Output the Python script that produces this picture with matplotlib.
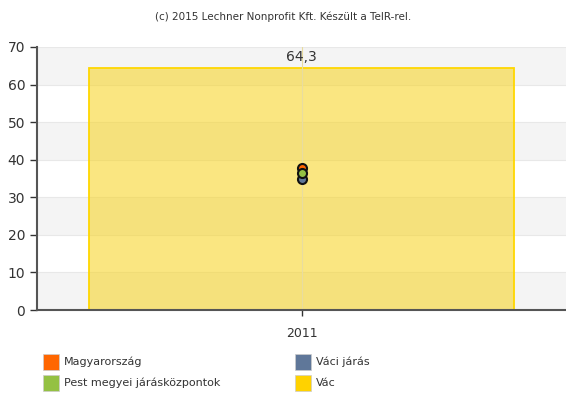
import matplotlib.pyplot as plt
import matplotlib.patches as mpatches
import numpy as np

# data
years = ["2011"]
vac = [64.3]
series_names = ["Magyarország", "Váci járás", "Pest megyei járásközpontok"]
series_vals = [37.8, 34.8, 36.4]
series_colors = ["#ff6600", "#5f7799", "#94c143"]
legend_names = ["Magyarország", "Váci járás", "Pest megyei járásközpontok", "Vác"]
legend_colors = ["#ff6600", "#5f7799", "#94c143", "#ffd200"]

fig = plt.figure(figsize=(5.66, 4.12), dpi=100)
ax = fig.add_axes([37 / 566, 102 / 412, 529 / 566, 263 / 412])

x = np.arange(len(years))
ax.set_xlim(-0.5, 0.5)
ax.set_ylim(0, 70)

# alternating bands
for lo in range(0, 70, 20):
    ax.axhspan(lo, lo + 10, color="#f4f4f4", zorder=0, lw=0)
for v in range(10, 71, 10):
    ax.axhline(v, color="#e8e8e8", lw=0.8, zorder=0.5)
ax.axvline(0, color="#e8dca0", lw=0.8, zorder=2.5)

ax.bar(x, vac, width=0.803, color="#f7d31a", alpha=0.55, zorder=2, lw=0)
ax.bar(x, vac, width=0.803, fill=False, edgecolor="#ffd700", linewidth=1.3, zorder=2.2)
for xi, v in zip(x, vac):
    ax.text(xi, v + 1.3, f"{v:.1f}".replace(".", ","), ha="center", va="bottom",
            fontsize=10, color="#333333")

for name, val, col in zip(series_names, series_vals, series_colors):
    ax.plot(x, [val], "o", color=col, markeredgecolor="#111111", markeredgewidth=1.5,
            markersize=6.5, zorder=4)

ax.set_xticks(x)
ax.set_xticklabels(years)
ax.set_yticks(range(0, 71, 10))
ax.tick_params(labelsize=10, colors="#333333", length=5, width=1)
ax.tick_params(axis="x", labelsize=9, length=4, pad=8)
for s in ["top", "right"]:
    ax.spines[s].set_visible(False)
ax.spines["left"].set_color("#555555")
ax.spines["bottom"].set_color("#555555")
ax.spines["left"].set_linewidth(1.5)
ax.spines["bottom"].set_linewidth(1.5)

fig.text(0.5, 0.96, "(c) 2015 Lechner Nonprofit Kft. Készült a TeIR-rel.",
         ha="center", va="center", fontsize=7.5, color="#333333")

# legend
pos = [(43, 362), (295, 362), (43, 383), (295, 383)]
for (px, py), name, col in zip(pos, legend_names, legend_colors):
    fig.patches.append(mpatches.Rectangle((px / 566, 1 - (py + 8) / 412), 16 / 566, 16 / 412,
                                          transform=fig.transFigure, facecolor=col,
                                          edgecolor="#cccccc", lw=0.5))
    fig.text((px + 21) / 566, 1 - py / 412, name, ha="left", va="center",
             fontsize=8, color="#333333")

fig.savefig("out.png", dpi=100)
